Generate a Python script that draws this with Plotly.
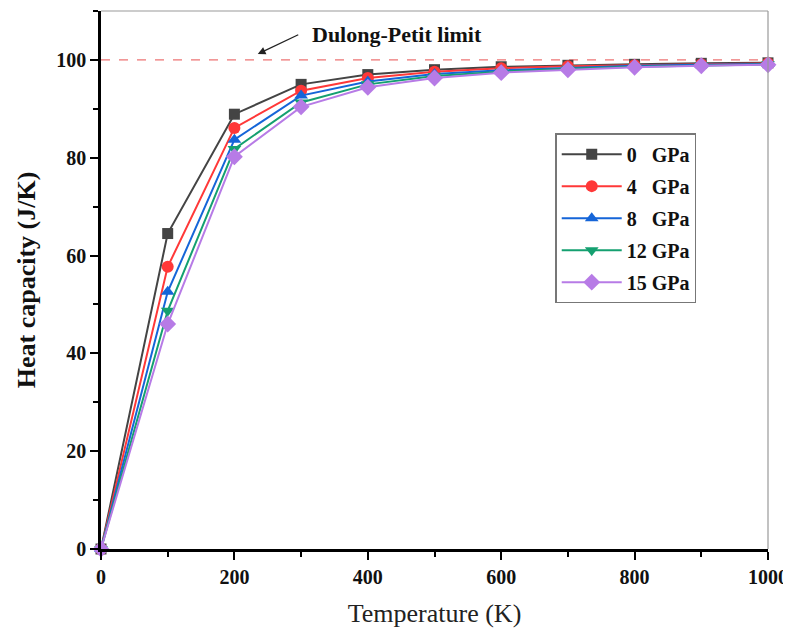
import plotly.graph_objects as go

temps = [0, 100, 200, 300, 400, 500, 600, 700, 800, 900, 1000]
cv_0gpa = [0, 64.5, 88.9, 95.0, 97.0, 98.0, 98.6, 98.9, 99.1, 99.3, 99.4]
cv_4gpa = [0, 57.7, 86.1, 93.7, 96.3, 97.6, 98.3, 98.7, 98.9, 99.1, 99.3]
cv_8gpa = [0, 52.6, 83.7, 92.7, 95.6, 97.1, 97.9, 98.4, 98.8, 99.0, 99.2]
cv_12gpa = [0, 48.7, 81.8, 91.3, 95.0, 96.7, 97.6, 98.2, 98.6, 98.9, 99.1]
cv_15gpa = [0, 46.0, 80.2, 90.4, 94.4, 96.3, 97.4, 98.0, 98.5, 98.8, 99.0]
series_names = ["0\u00a0\u00a0\u00a0GPa", "4\u00a0\u00a0\u00a0GPa", "8\u00a0\u00a0\u00a0GPa", "12 GPa", "15 GPa"]
limit_value = 100

series = [cv_0gpa, cv_4gpa, cv_8gpa, cv_12gpa, cv_15gpa]
colors = ["#444444", "#FF3838", "#1565D8", "#14A070", "#B77BE6"]
symbols = ["square", "circle", "triangle-up", "triangle-down", "diamond"]
sizes = [11, 12, 12, 12, 13]

FONT = "Liberation Serif, Times New Roman, serif"

fig = go.Figure()
for i, (name, ys, c, s, sz) in enumerate(zip(series_names, series, colors, symbols, sizes)):
    fig.add_trace(go.Scatter(
        x=temps, y=ys, name=name, mode="lines+markers", legendgroup=f"g{i}",
        line=dict(color=c, width=2),
        marker=dict(symbol=s, size=sz, color=c),
        cliponaxis=False,
    ))

fig.add_shape(type="line", xref="x", yref="y", x0=0, x1=1000, y0=limit_value, y1=limit_value,
              line=dict(color="#E85050", width=1, dash="dash"), layer="below")

fig.add_annotation(x=235, y=limit_value + 1.2, xref="x", yref="y",
                   ax=42, ay=-20, showarrow=True, arrowhead=2, arrowsize=1.2,
                   arrowwidth=1.3, arrowcolor="#222", text="")
fig.add_annotation(x=313, y=105.2, xref="x", yref="y", text="<b>Dulong-Petit limit</b>",
                   showarrow=False, xanchor="left", yanchor="middle",
                   font=dict(family=FONT, size=22, color="#111"))

fig.update_layout(
    width=783, height=623,
    margin=dict(l=93, r=23, t=3, b=82),
    paper_bgcolor="white", plot_bgcolor="white",
    font=dict(family=FONT, color="#111"),
    showlegend=True,
    legend=dict(x=0.681, y=0.773, xanchor="left", yanchor="top",
                bgcolor="white", bordercolor="#777", borderwidth=1.5,
                font=dict(family=FONT, size=20, color="#111", weight="bold"),
                itemwidth=60, tracegroupgap=3),
    xaxis=dict(range=[0, 1000], showgrid=False, zeroline=False, automargin=True,
               showline=True, linecolor="black", linewidth=2.5, mirror=False,
               ticks="outside", ticklen=8, tickwidth=2, tickcolor="black",
               tick0=0, dtick=200,
               minor=dict(ticks="outside", ticklen=5, tickwidth=2, tickcolor="black", dtick=100, showgrid=False),
               tickfont=dict(family=FONT, size=20, color="#111", weight="bold"),
               title=dict(text="Temperature (K)", font=dict(family=FONT, size=26, color="#222"), standoff=18)),
    yaxis=dict(range=[0, 110], showgrid=False, zeroline=False, automargin=True,
               showline=True, linecolor="black", linewidth=2.5,
               ticks="outside", ticklen=8, tickwidth=2, tickcolor="black",
               tick0=0, dtick=20,
               minor=dict(ticks="outside", ticklen=5, tickwidth=2, tickcolor="black", dtick=10, showgrid=False),
               tickfont=dict(family=FONT, size=20, color="#111", weight="bold"),
               title=dict(text="<b>Heat capacity (J/K)</b>", font=dict(family=FONT, size=26, color="#111"), standoff=14)),
)

# light gray frame on top and right
fig.add_shape(type="line", xref="paper", yref="paper", x0=0, x1=1, y0=1, y1=1,
              line=dict(color="#999", width=1.2))
fig.add_shape(type="line", xref="paper", yref="paper", x0=1, x1=1, y0=0, y1=1,
              line=dict(color="#999", width=1.2))

fig.write_html("out.html")
